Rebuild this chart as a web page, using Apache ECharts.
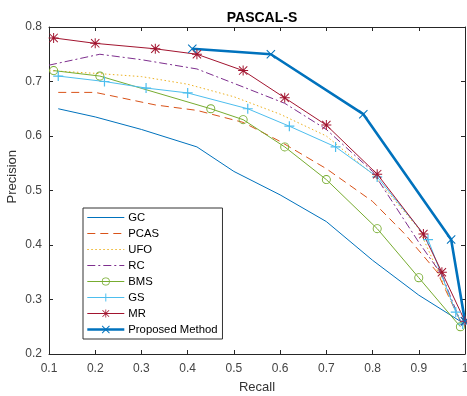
<!DOCTYPE html>
<html><head><meta charset="utf-8">
<script src="https://cdn.jsdelivr.net/npm/echarts@6/dist/echarts.min.js"></script>
<style>html,body{margin:0;padding:0;background:#fff}#c{width:467px;height:396px}</style>
</head><body><div id="c"></div>
<script>
const seriesNames = ['GC','PCAS','UFO','RC','BMS','GS','MR','Proposed Method'];
const gcData = [[0.12,0.65],[0.2,0.635],[0.3,0.612],[0.42,0.58],[0.5,0.535],[0.6,0.492],[0.7,0.443],[0.8,0.372],[0.9,0.308],[0.99,0.26]];
const pcasData = [[0.12,0.68],[0.2,0.68],[0.33,0.657],[0.42,0.647],[0.52,0.625],[0.6,0.59],[0.7,0.54],[0.8,0.48],[0.87,0.42],[0.94,0.35],[0.99,0.26]];
const ufoData = [[0.1,0.72],[0.2,0.715],[0.3,0.709],[0.4,0.695],[0.5,0.672],[0.6,0.64],[0.7,0.6],[0.8,0.53],[0.9,0.43],[0.99,0.26]];
const rcData = [[0.1,0.73],[0.21,0.75],[0.3,0.74],[0.42,0.723],[0.52,0.69],[0.61,0.66],[0.7,0.612],[0.8,0.535],[0.9,0.405],[0.95,0.345],[0.99,0.26]];
const bmsData = [[0.11,0.72],[0.21,0.71],[0.45,0.65],[0.52,0.63],[0.61,0.58],[0.7,0.52],[0.81,0.43],[0.9,0.34],[0.99,0.25]];
const gsData = [[0.12,0.71],[0.22,0.70],[0.31,0.688],[0.4,0.679],[0.53,0.65],[0.62,0.618],[0.72,0.58],[0.81,0.525],[0.92,0.41],[0.98,0.277],[0.995,0.255]];
const mrData = [[0.11,0.78],[0.2,0.77],[0.33,0.76],[0.42,0.75],[0.52,0.72],[0.61,0.67],[0.7,0.62],[0.81,0.53],[0.91,0.42],[0.95,0.35],[1.0,0.26]];
const propData = [[0.41,0.76],[0.58,0.75],[0.78,0.64],[0.97,0.41],[1.0,0.26]];
const xTicks = ['0.1','0.2','0.3','0.4','0.5','0.6','0.7','0.8','0.9','1'];
const yTicks = ['0.2','0.3','0.4','0.5','0.6','0.7','0.8'];

const colors = { GC: '#0072BD', PCAS: '#D95319', UFO: '#EDB120', RC: '#7E2F8E', BMS: '#77AC30', GS: '#4DBEEE', MR: '#A2142F', 'Proposed Method': '#0072BD' };
const dashes = { PCAS: [8, 5], UFO: [1.5, 2.5], RC: [8, 3, 2, 3] };

const PLUS = 'path://M4.4,0H5.6V10H4.4Z M0,4.4H10V5.6H0Z';
const CROSS = 'path://M0.8,0L10,9.2L9.2,10L0,0.8Z M9.2,0L10,0.8L0.8,10L0,9.2Z';
const STAR = 'path://M4.5,0H5.5V10H4.5Z M0,4.5H10V5.5H0Z M1.2,0.5L9.5,8.8L8.8,9.5L0.5,1.2Z M8.8,0.5L9.5,1.2L1.2,9.5L0.5,8.8Z';
const RING = 'path://M5,0A5,5 0 1 1 4.99,0Z M5,1A4,4 0 1 0 5.01,1Z';
const FONT = 'Liberation Sans';

function mk(name, data, opts) {
  const color = colors[name];
  return Object.assign({
    name, type: 'line', data, symbol: 'none', showSymbol: true,
    lineStyle: { color, width: 1, type: dashes[name] || 'solid' },
    itemStyle: { color },
    emphasis: { disabled: true },
    animation: false
  }, opts || {});
}

const series = [
  mk('GC', gcData),
  mk('PCAS', pcasData),
  mk('UFO', ufoData),
  mk('RC', rcData),
  mk('BMS', bmsData, { symbol: RING, symbolSize: 9 }),
  mk('GS', gsData, { symbol: PLUS, symbolSize: 10 }),
  mk('MR', mrData, { symbol: STAR, symbolSize: 10 }),
  mk('Proposed Method', propData, { symbol: CROSS, symbolSize: 9, lineStyle: { color: colors['Proposed Method'], width: 2.6 } })
];

const noMarker = ['GC','PCAS','UFO','RC'];
const legendData = seriesNames.map(n => noMarker.includes(n) ? { name: n, itemStyle: { opacity: 0 } } : { name: n });

const axisLine = { show: true, lineStyle: { color: '#262626', width: 1 } };
const tick = { inside: true, length: 4, lineStyle: { color: '#262626' } };
const chart = echarts.init(document.getElementById('c'), null, { renderer: 'canvas' });
chart.setOption({
  backgroundColor: '#fff',
  animation: false,
  title: { text: 'PASCAL-S', left: 257, top: 6, textAlign: 'center',
    textStyle: { fontFamily: FONT, fontSize: 14, fontWeight: 'bold', color: '#000' } },
  grid: { left: 49, right: 2, top: 27, bottom: 42, containLabel: false, outerBoundsMode: 'none' },
  legend: {
    data: legendData, orient: 'vertical', left: 83, top: 208,
    itemWidth: 37, itemHeight: 10, itemGap: 5, padding: [4, 5, 4, 3],
    borderColor: '#333', borderWidth: 1, backgroundColor: '#fff',
    lineStyle: { color: 'inherit', width: 'inherit', type: 'inherit', opacity: 'inherit' },
    textStyle: { fontFamily: FONT, fontSize: 11.3, color: '#000', padding: [0, 0, 0, -1] },
    selectedMode: false
  },
  graphic: [{
    type: 'text', left: 6, top: 150, rotation: Math.PI / 2,
    style: { text: 'Precision', fontFamily: FONT, fontSize: 13, fill: '#333' }
  }],
  xAxis: [{
    type: 'value', min: 0.1, max: 1, interval: 0.1,
    name: 'Recall', nameLocation: 'middle', nameGap: 27,
    nameTextStyle: { fontFamily: FONT, fontSize: 13, color: '#333' },
    axisLine, axisTick: tick,
    axisLabel: { fontFamily: FONT, fontSize: 12, color: '#444', margin: 9,
      formatter: v => xTicks[Math.round((v - 0.1) * 10)] },
    splitLine: { show: false }
  }, {
    type: 'value', min: 0.1, max: 1, interval: 0.1, position: 'top',
    axisLine, axisTick: tick, axisLabel: { show: false }, splitLine: { show: false }
  }],
  yAxis: [{
    type: 'value', min: 0.2, max: 0.8, interval: 0.1,
    axisLine, axisTick: tick,
    axisLabel: { fontFamily: FONT, fontSize: 12, color: '#444', margin: 7,
      formatter: v => yTicks[Math.round((v - 0.2) * 10)] },
    splitLine: { show: false }
  }, {
    type: 'value', min: 0.2, max: 0.8, interval: 0.1, position: 'right',
    axisLine, axisTick: tick, axisLabel: { show: false }, splitLine: { show: false }
  }],
  series
});
</script></body></html>
